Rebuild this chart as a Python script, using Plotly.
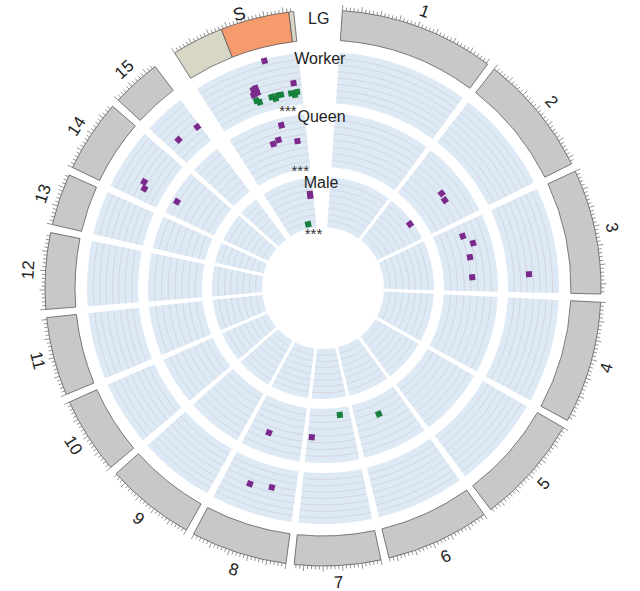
import numpy as np
import plotly.graph_objects as go

W, H = 640, 591
CX, CY = 323, 288          # centre of the circle in px
RMAX = 285                 # radial range == px radius

DEG_PER_MB = 0.8
START = 4.0
GAP = 1.7
GAP_WIDE = 4.9             # between LG15 and S

chroms = ["1", "2", "3", "4", "5", "6", "7", "8", "9", "10", "11", "12", "13", "14", "15", "S"]
chrom_len = [40.4, 31.8, 32.6, 31.9, 28.4, 27.1, 22.5, 25.1, 23.3, 20.0, 20.5, 19.9, 13.5, 18.9, 12.9, 32.75]

# social chromosome bands
s_band_start = [0, 13.5, 31.5]
s_band_end = [13.5, 31.5, 32.75]
s_band_color = ["#d8d6c5", "#f59b6d", "#d8d6c5"]

tracks = ["Worker", "Queen", "Male"]
track_in = [185, 121, 61]
track_out = [236, 175, 111]

# expression hits: track, chromosome, position (Mb), height in track (0-1), colour group
pt_track = ["Worker"] * 22 + ["Queen"] * 15 + ["Male"] * 4
pt_chrom = ["S", "S", "S", "S", "S", "S",
            "S", "S", "S", "S", "S", "S", "S", "S", "S",
            "15", "15", "14", "14", "3", "8", "8",
            "S", "S", "S", "S", "14", "2", "2", "3", "3", "3", "3", "8", "7", "7", "6",
            "S", "2", "S", "S"]
pt_pos = [22.25, 16.1, 17.1, 15.6, 17.0, 30.1,
          15.9, 16.75, 21.5, 22.75, 23.75, 25.0, 28.75, 30.0, 30.9,
          11.9, 4.0, 6.25, 4.25, 26.25, 16.0, 8.4,
          22.4, 19.4, 16.5, 28.0, 6.1, 16.75, 20.25, 5.6, 10.25, 16.25, 25.9, 16.0, 20.4, 5.6, 14.4,
          30.5, 19.6, 30.5, 24.0]
pt_val = [0.97, 0.49, 0.41, 0.39, 0.51, 0.43,
          0.27, 0.22, 0.25, 0.20, 0.25, 0.25, 0.24, 0.20, 0.25,
          0.38, 0.43, 0.45, 0.38, 0.42, 0.47, 0.41,
          0.87, 0.62, 0.58, 0.52, 0.90, 0.57, 0.54, 0.52, 0.66, 0.54, 0.53, 0.62, 0.53, 0.13, 0.31,
          0.64, 0.94, 0.68, 0.09]
pt_group = (["p"] * 6 + ["g"] * 9 + ["p"] * 7 +
            ["p"] * 13 + ["g", "g"] +
            ["p", "p", "p", "g"])

colors = {"p": "#7b2a8c", "g": "#16803c"}

starts = []
a = START
for c, L in zip(chroms, chrom_len):
    starts.append(a)
    a += L * DEG_PER_MB + (GAP_WIDE if c == "15" else GAP)
spans = [L * DEG_PER_MB for L in chrom_len]
cstart = dict(zip(chroms, starts))

fig = go.Figure()

# track backgrounds
for t, r0, r1 in zip(tracks, track_in, track_out):
    fig.add_trace(go.Barpolar(
        theta=[s + w / 2 for s, w in zip(starts, spans)], width=spans,
        base=[r0] * len(chroms), r=[r1 - r0] * len(chroms),
        marker=dict(color="#dde9f5", line=dict(width=0)), hoverinfo="skip"))

# ideogram
fig.add_trace(go.Barpolar(
    theta=[s + w / 2 for s, w in zip(starts[:-1], spans[:-1])], width=spans[:-1],
    base=[248] * 15, r=[30] * 15,
    marker=dict(color="#c8c8c8", line=dict(color="#5a5a5a", width=0.8)), hoverinfo="skip"))
s0 = cstart["S"]
fig.add_trace(go.Barpolar(
    theta=[s0 + (b0 + b1) / 2 * DEG_PER_MB for b0, b1 in zip(s_band_start, s_band_end)],
    width=[(b1 - b0) * DEG_PER_MB for b0, b1 in zip(s_band_start, s_band_end)],
    base=[248] * 3, r=[30] * 3,
    marker=dict(color=s_band_color, line=dict(color="#5a5a5a", width=0.8)), hoverinfo="skip"))

# grid arcs inside tracks
gt, gr = [], []
for r0, r1 in zip(track_in, track_out):
    for k in range(1, 8):
        rr = r0 + (r1 - r0) * k / 8
        for s, w in zip(starts, spans):
            th = np.linspace(s, s + w, max(int(w * 2), 2))
            gt += list(th) + [None]
            gr += [rr] * len(th) + [None]
fig.add_trace(go.Scatterpolar(theta=gt, r=gr, mode="lines",
                              line=dict(color="#d0d0d9", width=0.8), hoverinfo="skip"))

# white gaps between sectors (constant pixel width)
wt, wr = [], []
for s, w in zip(starts[:-2], spans[:-2]):
    g = s + w + GAP / 2
    wt += [g, g, None]
    wr += [58, 240, None]
fig.add_trace(go.Scatterpolar(theta=wt, r=wr, mode="lines",
                              line=dict(color="white", width=3), hoverinfo="skip"))

# ticks
tt, tr = [], []
for s, L in zip(starts, chrom_len):
    for mb in range(int(L) + 1):
        th = s + mb * DEG_PER_MB
        tt += [th, th, None]
        tr += [278, 283.5 if mb % 5 == 0 else 281.5, None]
fig.add_trace(go.Scatterpolar(theta=tt, r=tr, mode="lines",
                              line=dict(color="#666666", width=0.7), hoverinfo="skip"))

# points
tin = dict(zip(tracks, track_in))
tout = dict(zip(tracks, track_out))
for grp in ["p", "g"]:
    idx = [i for i in range(len(pt_pos)) if pt_group[i] == grp]
    th = [cstart[pt_chrom[i]] + pt_pos[i] * DEG_PER_MB for i in idx]
    rr = [tin[pt_track[i]] + pt_val[i] * (tout[pt_track[i]] - tin[pt_track[i]]) for i in idx]
    fig.add_trace(go.Scatterpolar(theta=th, r=rr, mode="markers",
                                  marker=dict(symbol="square", size=6, color=colors[grp], angle=th,
                                              line=dict(width=0)),
                                  hoverinfo="skip"))

# texts in the S / LG1 gap
fig.add_trace(go.Scatterpolar(
    theta=[359.2, 359.5, 358.9, 359.1], r=[228, 170, 104, 268],
    text=["Worker", "Queen", "Male", "LG"], mode="text",
    textfont=dict(family="Liberation Sans, Arial", size=16, color="#222")))
fig.add_trace(go.Scatterpolar(
    theta=[348.7, 348.9, 349.9], r=[179, 118, 54],
    text=["***"] * 3, mode="text",
    textfont=dict(family="Liberation Sans, Arial", size=15, color="#333")))

# chromosome labels
for c, s, w in zip(chroms, starts, spans):
    phi = s + w / 2
    rl = 295
    if c == "S":
        phi, rl = 343.0, 287
    rad = np.deg2rad(phi)
    x = (CX + rl * np.sin(rad)) / W
    y = 1 - (CY - rl * np.cos(rad)) / H
    ang = phi if (phi < 90 or phi > 270) else phi - 180
    if ang > 180:
        ang -= 360
    fig.add_annotation(x=x, y=y, xref="paper", yref="paper", text=c, showarrow=False,
                       xanchor="center", yanchor="middle", textangle=ang,
                       font=dict(family="Liberation Sans, Arial", size=18 if c == "S" else 17, color="#222"))

fig.update_layout(
    width=W, height=H, margin=dict(l=0, r=0, t=0, b=0, pad=0, autoexpand=False),
    paper_bgcolor="white", showlegend=False,
    polar=dict(
        domain=dict(x=[(CX - RMAX) / W, (CX + RMAX) / W],
                    y=[1 - (CY + RMAX) / H, 1 - (CY - RMAX) / H]),
        bgcolor="white", barmode="overlay",
        radialaxis=dict(visible=False, range=[0, RMAX]),
        angularaxis=dict(visible=False, rotation=90, direction="clockwise"),
    ),
)

# drop the default page margin so the figure sits at the window's corner
fig.write_html("out.html", config={"displayModeBar": False},
               post_script="document.body.style.margin = '0';")
